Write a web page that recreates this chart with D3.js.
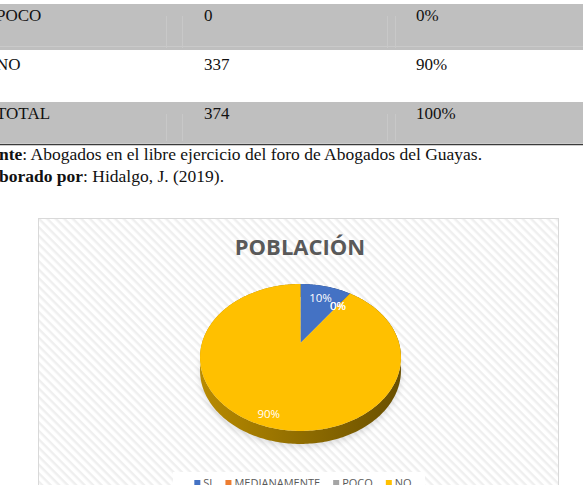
<!DOCTYPE html>
<html>
<head>
<meta charset="utf-8">
<script src="https://cdn.jsdelivr.net/npm/d3@7"></script>
<style>
  html, body { margin: 0; padding: 0; background: #fff; overflow: hidden; }
  svg { display: block; }
</style>
</head>
<body>
<svg id="page" width="583" height="485"></svg>
<script>
// table rows at the top of the page
const rowLabels = ["POCO", "NO", "TOTAL"];
const rowCounts = ["0", "337", "374"];
const rowPercents = ["0%", "90%", "100%"];

// pie data
const categories = ["SI", "MEDIANAMENTE", "POCO", "NO"];
const values = [37, 0, 0, 337];
const pctLabels = ["10%", "0%", "0%", "90%"];
const colors = ["#4472C4", "#ED7D31", "#A5A5A5", "#FFC000"];

const svg = d3.select("#page");
const defs = svg.append("defs");

// ---- table ----
const rowTop = [4, 52, 102];
const rowBottom = [50, 102, 143];
const rowBase = [21, 70, 119];
const colX = [-4, 204, 416];

rowLabels.forEach(function (lab, i) {
  if (i != 1) {
    svg.append("rect")
      .attr("x", 0).attr("y", rowTop[i])
      .attr("width", 583).attr("height", rowBottom[i] - rowTop[i])
      .attr("fill", "#bfbfbf");
  }
  [lab, rowCounts[i], rowPercents[i]].forEach(function (t, j) {
    svg.append("text")
      .attr("x", colX[j]).attr("y", rowBase[i])
      .attr("font-family", "Liberation Serif")
      .attr("font-size", 17)
      .attr("fill", "#111")
      .text(t);
  });
});
// faint cell borders inside grey rows
svg.append("line").attr("x1", 0).attr("x2", 583).attr("y1", 46.5).attr("y2", 46.5)
  .attr("stroke", "#c9c9c9").attr("stroke-width", 1);
[166, 182, 387, 395].forEach(function (x) {
  [0, 2].forEach(function (i) {
    svg.append("line").attr("x1", x + 0.5).attr("x2", x + 0.5)
      .attr("y1", rowTop[i] + 12).attr("y2", rowBottom[i] - 2)
      .attr("stroke", "#c8c8c8").attr("stroke-width", 1);
  });
});
svg.append("line").attr("x1", 0).attr("x2", 583).attr("y1", 144.5).attr("y2", 144.5)
  .attr("stroke", "#3a3a3a").attr("stroke-width", 1.5);

// source notes, the start of each line is cut off by the page edge
function cutLine(y, boldText, hidden, rest) {
  const tmp = svg.append("text").attr("font-family", "Liberation Serif")
    .attr("font-size", 17.5).attr("font-weight", "bold").text(hidden);
  const w = tmp.node().getComputedTextLength();
  tmp.remove();
  const t = svg.append("text").attr("x", -w - 1).attr("y", y)
    .attr("font-family", "Liberation Serif").attr("font-size", 17.5).attr("fill", "#111");
  t.append("tspan").attr("font-weight", "bold").text(boldText);
  t.append("tspan").text(rest);
}
cutLine(160, "Fuente", "Fue", ": Abogados en el libre ejercicio del foro de Abogados del Guayas.");
cutLine(182, "Elaborado por", "Ela", ": Hidalgo, J. (2019).");

// ---- chart area ----
const stripes = defs.append("pattern")
  .attr("id", "stripes")
  .attr("patternUnits", "userSpaceOnUse")
  .attr("width", 6).attr("height", 6)
  .attr("patternTransform", "rotate(45)");
stripes.append("rect").attr("width", 6).attr("height", 6).attr("fill", "#fff");
stripes.append("rect").attr("width", 6).attr("height", 2.4).attr("fill", "#efefef");

svg.append("rect")
  .attr("x", 38.5).attr("y", 218.5)
  .attr("width", 520).attr("height", 290)
  .attr("fill", "url(#stripes)")
  .attr("stroke", "#d9d9d9");

svg.append("text")
  .attr("x", 300).attr("y", 255)
  .attr("text-anchor", "middle")
  .attr("font-family", "Open Sans")
  .attr("font-weight", "bold")
  .attr("font-size", 22)
  .attr("fill", "#595959")
  .text("POBLACIÓN");

// 3D pie, a tilted disc seen in perspective
const cx = 300.5, apexY = 343, A = 98.5, B = 70.6, k = 0.197, depth = 13;
function proj(a, r, dz) {
  const u = r * Math.sin(a), v = -r * Math.cos(a), w = 1 - k * v;
  return [cx + A * u / w, apexY + B * v / w + dz];
}
function rim(a0, a1, dz) {
  const step = Math.PI / 180;
  return d3.range(a0, a1, step).concat([a1]).map(function (a) { return proj(a, 1, dz); });
}

const color = d3.scaleOrdinal().domain(categories).range(colors);
const pie = d3.pie().sort(null).value(function (d) { return d.value; });
const arcs = pie(categories.map(function (c, i) { return { cat: c, value: values[i], label: pctLabels[i] }; }));

const line = d3.line();

// soft shadow under the disc
const blur = defs.append("filter").attr("id", "blur").attr("x", "-20%").attr("y", "-20%")
  .attr("width", "140%").attr("height", "140%");
blur.append("feGaussianBlur").attr("stdDeviation", 3);
svg.append("path")
  .attr("d", line(rim(0, 2 * Math.PI, depth + 3)) + "Z")
  .attr("fill", "#000").attr("opacity", 0.12)
  .attr("filter", "url(#blur)");

// side walls
const pieG = svg.append("g");
arcs.forEach(function (d, i) {
  if (d.endAngle - d.startAngle <= 0) return;
  const gid = "side" + i;
  const base = d3.color(color(d.data.cat));
  const g = defs.append("linearGradient").attr("id", gid)
    .attr("gradientUnits", "userSpaceOnUse")
    .attr("x1", cx - 101).attr("x2", cx + 101).attr("y1", 0).attr("y2", 0);
  g.append("stop").attr("offset", "0%").attr("stop-color", base.darker(0.9));
  g.append("stop").attr("offset", "50%").attr("stop-color", base.darker(1.6));
  g.append("stop").attr("offset", "100%").attr("stop-color", base.darker(2.5));
  const top = rim(d.startAngle, d.endAngle, 0);
  const bottom = rim(d.startAngle, d.endAngle, depth).reverse();
  pieG.append("path")
    .attr("d", line(top.concat(bottom)) + "Z")
    .attr("fill", "url(#" + gid + ")");
});

// top faces
arcs.forEach(function (d) {
  if (d.endAngle - d.startAngle <= 0) return;
  const pts = [[cx, apexY]].concat(rim(d.startAngle, d.endAngle, 0));
  pieG.append("path")
    .attr("d", line(pts) + "Z")
    .attr("fill", color(d.data.cat));
});

// data labels, inside end
arcs.forEach(function (d) {
  const mid = (d.startAngle + d.endAngle) / 2;
  const p = proj(mid, 1, 0);
  const dx = p[0] - cx, dy = p[1] - apexY;
  const len = Math.sqrt(dx * dx + dy * dy);
  const f = 1 - (d.value == 0 ? 17 : 13) / len;
  svg.append("text")
    .attr("x", cx + dx * f).attr("y", apexY + dy * f)
    .attr("dy", "0.35em")
    .attr("text-anchor", "middle")
    .attr("font-family", "Open Sans")
    .attr("font-size", 11.5)
    .attr("fill", "#ffffff")
    .text(d.data.label);
});

// legend
const legend = svg.append("g");
legend.append("rect").attr("x", 173).attr("y", 472).attr("width", 252).attr("height", 30).attr("fill", "#fff");
const items = legend.append("g");
let lx = 0;
categories.forEach(function (c) {
  const it = items.append("g").attr("transform", "translate(" + lx + ",0)");
  it.append("rect").attr("x", 0).attr("y", 480).attr("width", 6).attr("height", 6).attr("fill", color(c));
  const t = it.append("text").attr("x", 9).attr("y", 487)
    .attr("font-family", "Open Sans").attr("font-size", 11).attr("fill", "#595959").text(c);
  lx += 9 + t.node().getComputedTextLength() + 13;
});
lx -= 13;
items.attr("transform", "translate(" + (303 - lx / 2) + ",0)");
</script>
</body>
</html>
